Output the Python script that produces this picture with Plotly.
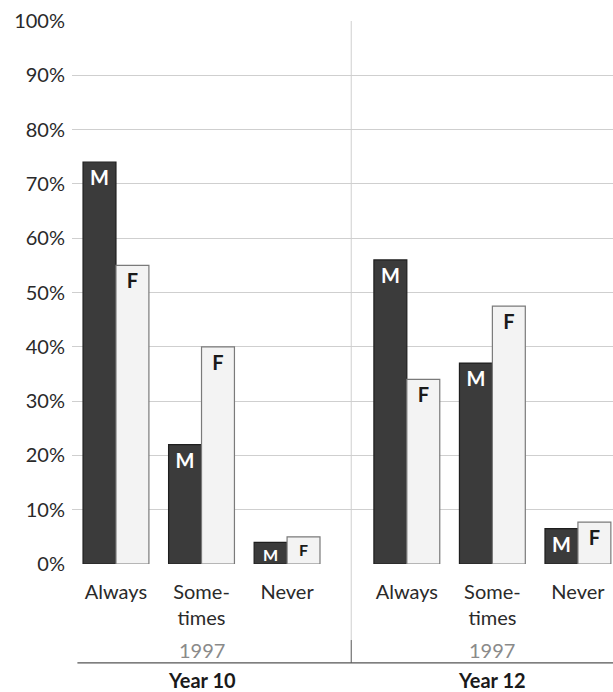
import plotly.graph_objects as go

# Survey answers, 1997, by school year and sex (percent)
categories = ["Always", "Some-<br>times", "Never"]
groups = ["Year 10", "Year 12"]
survey_year = "1997"
male_y10 = [74, 22, 4]
female_y10 = [55, 40, 5]
male_y12 = [56, 37, 6.5]
female_y12 = [34, 47.5, 7.7]
y_ticks = [0, 10, 20, 30, 40, 50, 60, 70, 80, 90, 100]
y_tick_labels = [f"{v}%" for v in y_ticks]

# x positions: three categories per school year, with a wider gap between years
group_offset = 3.4
x_y10 = [i for i in range(len(categories))]
x_y12 = [i + group_offset for i in range(len(categories))]
x_all = x_y10 + x_y12
divider_x = 2.75

male_vals = male_y10 + male_y12
female_vals = female_y10 + female_y12

font_family = "Lato, 'Noto Sans', sans-serif"


def label_sizes(values):
    # short bars get a slightly smaller letter so it stays inside the bar
    return [20 if v >= 6 else 16 for v in values]


fig = go.Figure()
fig.add_trace(go.Bar(
    x=x_all, y=male_vals, name="M",
    marker=dict(color="#3b3b3b", line=dict(color="#1e1e1e", width=1.2)),
    text=["M"] * len(male_vals), textposition="inside", insidetextanchor="end",
    textangle=0, constraintext="none", cliponaxis=False,
    textfont=dict(color="white", size=label_sizes(male_vals), family=font_family,
                  weight="bold"),
    hoverinfo="y",
))
fig.add_trace(go.Bar(
    x=x_all, y=female_vals, name="F",
    marker=dict(color="#f3f3f3", line=dict(color="#7a7a7a", width=1.2)),
    text=["F"] * len(female_vals), textposition="inside", insidetextanchor="end",
    textangle=0, constraintext="none", cliponaxis=False,
    textfont=dict(color="#1a1a1a", size=label_sizes(female_vals), family=font_family,
                  weight="bold"),
    hoverinfo="y",
))

fig.update_layout(
    width=613, height=692,
    margin=dict(l=72, r=0, t=21, b=128),
    plot_bgcolor="white", paper_bgcolor="white",
    barmode="group", bargap=0.23, bargroupgap=0,
    showlegend=False,
    font=dict(family=font_family, size=20, color="#2a2a2a"),
)
fig.update_yaxes(
    range=[0, 100], tickvals=y_ticks, ticktext=y_tick_labels,
    showgrid=True, gridcolor="#cfcfcf", gridwidth=1,
    zeroline=False, showline=False, ticks="", ticklabelstandoff=6,
    tickfont=dict(size=20, color="#2a2a2a"),
)
fig.update_xaxes(
    range=[-0.514, 5.81], tickvals=x_all, ticktext=categories * 2,
    showgrid=False, zeroline=False, showline=False, ticks="",
    ticklabelstandoff=14,
    tickfont=dict(size=20, color="#2a2a2a"),
)

# Divider between the two school years
fig.add_shape(type="line", xref="x", yref="paper", x0=divider_x, x1=divider_x,
              y0=-0.14, y1=1, line=dict(color="#cfcfcf", width=1))
fig.add_shape(type="line", xref="x", yref="paper", x0=divider_x, x1=divider_x,
              y0=-0.182, y1=-0.14, line=dict(color="#555555", width=1))
# Rule under the year captions
fig.add_shape(type="line", xref="paper", yref="paper", x0=0.01, x1=1,
              y0=-0.182, y1=-0.182, line=dict(color="#555555", width=1.2))

for gx, gname in zip([x_y10[1], x_y12[1]], groups):
    fig.add_annotation(x=gx, y=-0.158, xref="x", yref="paper", yanchor="middle",
                       text=survey_year, showarrow=False,
                       font=dict(size=20, color="#8a8a8a"))
    fig.add_annotation(x=gx, y=-0.214, xref="x", yref="paper", yanchor="middle",
                       text=gname, showarrow=False,
                       font=dict(size=20, color="#1a1a1a", weight="bold"))

fig.write_html("out.html")
